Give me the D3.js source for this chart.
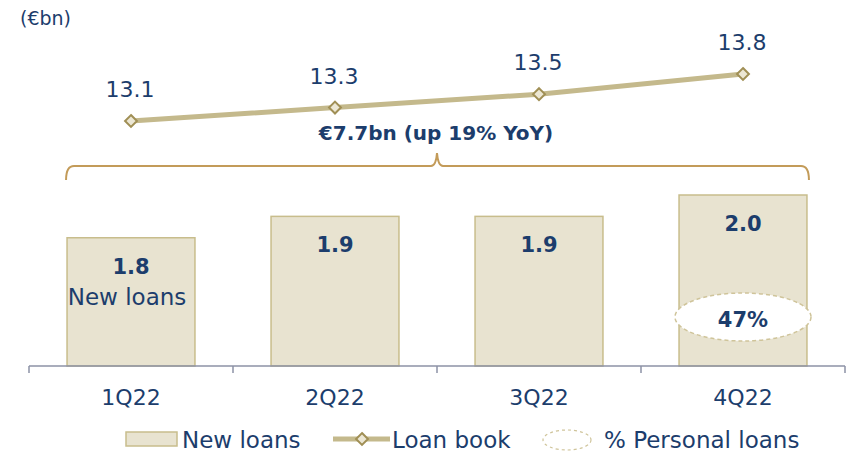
<!DOCTYPE html>
<html>
<head>
<meta charset="utf-8">
<script src="https://cdn.jsdelivr.net/npm/d3@7/dist/d3.min.js"></script>
<style>
  html, body { margin: 0; padding: 0; background: #fff; }
  svg { display: block; }
  text { font-family: "DejaVu Sans", sans-serif; fill: #1c3d6c; }
</style>
</head>
<body>
<svg id="chart" width="853" height="453"></svg>
<script>
// ---- data ----
const categories = ["1Q22", "2Q22", "3Q22", "4Q22"];
const newLoans = [1.8, 1.9, 1.9, 2.0];
const loanBook = [13.1, 13.3, 13.5, 13.8];
const personalShare = [null, null, null, 47];
const totalLabel = "€7.7bn (up 19% YoY)";
const unitLabel = "(€bn)";
const legendLabels = ["New loans", "Loan book", "% Personal loans"];

const C = {
  text: "#1c3d6c",
  barFill: "#e8e3d0",
  barStroke: "#c8bd8c",
  line: "#c4b98c",
  diamondFill: "#ece7d4",
  diamondStroke: "#a08f55",
  brace: "#c39b59",
  axis: "#8d92a6",
  ellipse: "#cfc49a"
};

const svg = d3.select("#chart");

const x = d3.scaleBand().domain(categories).range([29, 845]).padding(0);
const bw = x.bandwidth();
const barW = bw * 0.627;
const cx = c => x(c) + bw / 2;

const yBar = d3.scaleLinear().domain([1.2, 2.0]).range([366, 195]);
const yLine = d3.scaleLinear().domain([13.1, 13.8]).range([121, 74]);

// unit label
svg.append("text").attr("x", 20).attr("y", 25).attr("font-size", 19).text(unitLabel);

// bars
svg.append("g").selectAll("rect").data(categories).join("rect")
  .attr("x", c => cx(c) - barW / 2)
  .attr("y", (c, i) => yBar(newLoans[i]))
  .attr("width", barW)
  .attr("height", (c, i) => yBar(1.2) - yBar(newLoans[i]))
  .attr("fill", C.barFill)
  .attr("stroke", C.barStroke)
  .attr("stroke-width", 1.5);

// bar value labels
svg.append("g").selectAll("text").data(categories).join("text")
  .attr("x", c => cx(c))
  .attr("y", (c, i) => yBar(newLoans[i]) + 36)
  .attr("text-anchor", "middle")
  .attr("font-size", 21)
  .attr("font-weight", "bold")
  .text((c, i) => newLoans[i].toFixed(1));

svg.append("text")
  .attr("x", cx(categories[0]) - 4)
  .attr("y", yBar(newLoans[0]) + 67)
  .attr("text-anchor", "middle")
  .attr("font-size", 23)
  .text(legendLabels[0]);

// personal loans ellipse
categories.forEach((c, i) => {
  if (personalShare[i] == null) return;
  svg.append("ellipse")
    .attr("cx", cx(c)).attr("cy", 317).attr("rx", 68).attr("ry", 24)
    .attr("fill", "#fff").attr("stroke", C.ellipse)
    .attr("stroke-width", 1.5).attr("stroke-dasharray", "4,3");
  svg.append("text")
    .attr("x", cx(c)).attr("y", 327).attr("text-anchor", "middle")
    .attr("font-size", 21).attr("font-weight", "bold")
    .text(personalShare[i] + "%");
});

// x axis
const axisG = svg.append("g").attr("transform", "translate(0,366)");
axisG.append("line").attr("x1", 29).attr("x2", 845).attr("stroke", C.axis).attr("stroke-width", 1.5);
const tickXs = categories.map(c => x(c)).concat([x(categories[categories.length - 1]) + bw]);
axisG.selectAll("line.tk").data(tickXs).join("line").attr("class", "tk")
  .attr("x1", d => d).attr("x2", d => d).attr("y1", 0).attr("y2", 7)
  .attr("stroke", C.axis).attr("stroke-width", 1.5);
svg.append("g").selectAll("text").data(categories).join("text")
  .attr("x", c => cx(c)).attr("y", 405).attr("text-anchor", "middle")
  .attr("font-size", 22).text(c => c);

// brace
const bx0 = x(categories[0]) + (bw - barW) / 2 - 1;
const bx1 = x(categories[3]) + (bw + barW) / 2 + 2;
const bmid = (x(categories[0]) + x(categories[3]) + bw) / 2;
const by = 166;
const braceP = d3.path();
braceP.moveTo(bx0, by + 14);
braceP.quadraticCurveTo(bx0, by, bx0 + 8, by);
braceP.lineTo(bmid - 6, by);
braceP.quadraticCurveTo(bmid - 1, by, bmid, by - 13);
braceP.quadraticCurveTo(bmid + 1, by, bmid + 6, by);
braceP.lineTo(bx1 - 8, by);
braceP.quadraticCurveTo(bx1, by, bx1, by + 14);
svg.append("path").attr("d", braceP.toString()).attr("fill", "none")
  .attr("stroke", C.brace).attr("stroke-width", 2);
svg.append("text").attr("x", bmid - 1).attr("y", 140).attr("text-anchor", "middle")
  .attr("font-size", 20).attr("font-weight", "bold").text(totalLabel);

// loan book line
const line = d3.line().x((d, i) => cx(categories[i])).y(d => yLine(d));
svg.append("path").datum(loanBook).attr("d", line).attr("fill", "none")
  .attr("stroke", C.line).attr("stroke-width", 5);
const diamond = d3.symbol().type(d3.symbolDiamond2).size(90);
svg.append("g").selectAll("path").data(loanBook).join("path")
  .attr("transform", (d, i) => `translate(${cx(categories[i])},${yLine(d)})`)
  .attr("d", diamond)
  .attr("fill", C.diamondFill).attr("stroke", C.diamondStroke).attr("stroke-width", 2);
svg.append("g").selectAll("text").data(loanBook).join("text")
  .attr("x", (d, i) => cx(categories[i]) - 1)
  .attr("y", d => yLine(d) - 24)
  .attr("text-anchor", "middle").attr("font-size", 22)
  .text(d => d.toFixed(1));

// legend
const lg = svg.append("g");
lg.append("rect").attr("x", 126).attr("y", 432).attr("width", 51).attr("height", 14)
  .attr("fill", C.barFill).attr("stroke", C.barStroke).attr("stroke-width", 1.5);
lg.append("text").attr("x", 182).attr("y", 448).attr("font-size", 23).text(legendLabels[0]);
lg.append("line").attr("x1", 333).attr("x2", 390).attr("y1", 439).attr("y2", 439)
  .attr("stroke", C.line).attr("stroke-width", 5);
lg.append("path").attr("transform", "translate(362,439)").attr("d", diamond)
  .attr("fill", C.diamondFill).attr("stroke", C.diamondStroke).attr("stroke-width", 2);
lg.append("text").attr("x", 392).attr("y", 448).attr("font-size", 23).text(legendLabels[1]);
lg.append("ellipse").attr("cx", 567).attr("cy", 440).attr("rx", 24).attr("ry", 10)
  .attr("fill", "#fff").attr("stroke", C.ellipse).attr("stroke-width", 1.2)
  .attr("stroke-dasharray", "3,3");
lg.append("text").attr("x", 604).attr("y", 448).attr("font-size", 23).text(legendLabels[2]);
</script>
</body>
</html>
